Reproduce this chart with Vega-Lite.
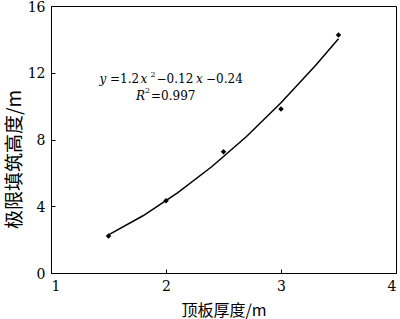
{
  "$schema": "https://vega.github.io/schema/vega-lite/v6.json",
  "width": 345,
  "height": 267,
  "autosize": {"type": "none"},
  "padding": {"left": 51, "top": 6, "right": 4, "bottom": 46},
  "background": "white",
  "config": {
    "view": {"stroke": "black", "strokeWidth": 1},
    "axis": {
      "grid": false,
      "domainColor": "black",
      "tickColor": "black",
      "labelColor": "black",
      "titleColor": "black",
      "labelFont": "DejaVu Serif",
      "labelFontSize": 14,
      "titleFont": "Noto Sans CJK SC",
      "titleFontWeight": "normal",
      "tickSize": -4,
      "tickWidth": 1
    }
  },
  "datasets": {
    "points": [
      {"x": 1.5, "y": 2.22},
      {"x": 2.0, "y": 4.33},
      {"x": 2.5, "y": 7.27},
      {"x": 3.0, "y": 9.83},
      {"x": 3.5, "y": 14.26}
    ],
    "curve": [
      {"x": 1.5, "y": 2.28},
      {"x": 1.8, "y": 3.43},
      {"x": 2.1, "y": 4.80},
      {"x": 2.4, "y": 6.38},
      {"x": 2.7, "y": 8.18},
      {"x": 3.0, "y": 10.2},
      {"x": 3.3, "y": 12.43},
      {"x": 3.5, "y": 14.04}
    ],
    "italic": [
      {"t": "y", "x": 1.4217, "y": 11.386},
      {"t": "x", "x": 1.7783, "y": 11.386},
      {"t": "x", "x": 2.2609, "y": 11.386},
      {"t": "R", "x": 1.7391, "y": 10.397}
    ],
    "normal": [
      {"t": "=1.2", "x": 1.513, "y": 11.386},
      {"t": "−0.12", "x": 1.9174, "y": 11.386},
      {"t": "−0.24", "x": 2.3478, "y": 11.386},
      {"t": "=0.997", "x": 1.8696, "y": 10.397}
    ],
    "sup": [
      {"t": "2", "x": 1.8652, "y": 11.745},
      {"t": "2", "x": 1.8174, "y": 10.757}
    ]
  },
  "layer": [
    {
      "data": {"name": "curve"},
      "mark": {"type": "line", "color": "black", "strokeWidth": 1.5},
      "encoding": {
        "x": {
          "field": "x", "type": "quantitative",
          "scale": {"domain": [1, 4], "nice": false},
          "axis": {"values": [1, 2, 3, 4], "format": "d", "title": "顶板厚度/m", "titleFontSize": 16, "labelPadding": 10, "titleY": 42, "titleBaseline": "alphabetic"}
        },
        "y": {
          "field": "y", "type": "quantitative",
          "scale": {"domain": [0, 16], "nice": false},
          "axis": {"values": [0, 4, 8, 12, 16], "format": "d", "title": "极限填筑高度/m", "titleFontSize": 19, "labelPadding": 10, "labelOffset": 1, "titleX": -31, "titleY": 153, "titleBaseline": "alphabetic"}
        }
      }
    },
    {
      "data": {"name": "points"},
      "mark": {"type": "point", "shape": "diamond", "filled": true, "color": "black", "size": 30, "opacity": 1},
      "encoding": {
        "x": {"field": "x", "type": "quantitative"},
        "y": {"field": "y", "type": "quantitative"}
      }
    },
    {
      "data": {"name": "italic"},
      "mark": {"type": "text", "font": "DejaVu Serif", "fontSize": 12, "fontStyle": "italic", "align": "left", "baseline": "alphabetic", "color": "black"},
      "encoding": {
        "x": {"field": "x", "type": "quantitative"},
        "y": {"field": "y", "type": "quantitative"},
        "text": {"field": "t"}
      }
    },
    {
      "data": {"name": "normal"},
      "mark": {"type": "text", "font": "DejaVu Serif", "fontSize": 12, "align": "left", "baseline": "alphabetic", "color": "black"},
      "encoding": {
        "x": {"field": "x", "type": "quantitative"},
        "y": {"field": "y", "type": "quantitative"},
        "text": {"field": "t"}
      }
    },
    {
      "data": {"name": "sup"},
      "mark": {"type": "text", "font": "DejaVu Serif", "fontSize": 8, "align": "left", "baseline": "alphabetic", "color": "black"},
      "encoding": {
        "x": {"field": "x", "type": "quantitative"},
        "y": {"field": "y", "type": "quantitative"},
        "text": {"field": "t"}
      }
    }
  ]
}
